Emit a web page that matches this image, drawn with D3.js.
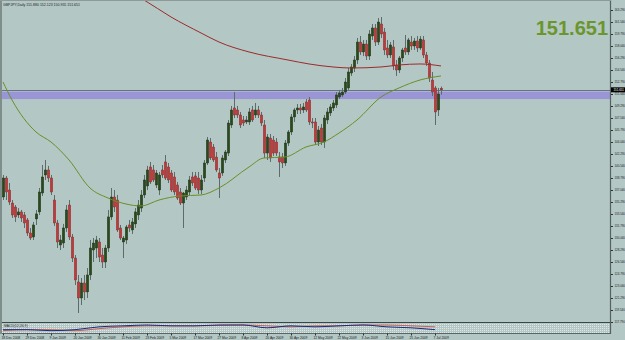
<!DOCTYPE html>
<html>
<head>
<meta charset="utf-8">
<script src="https://cdn.jsdelivr.net/npm/d3@7"></script>
<style>
    html, body { margin: 0; padding: 0; background: #b3c7c4; }
    svg { display: block; }
</style>
</head>
<body>
<div class="container"></div>
<script>
const WIDTH = 625,
    HEIGHT = 340,
    PLOT_LEFT = 2,
    AXIS_X = 611,
    PLOT_BOTTOM = 322,
    SUB_TOP = 323,
    SUB_BOTTOM = 333,
    FONT = '"Liberation Sans", Arial, sans-serif';

// GBPJPY daily bars, 147 candles
const opens = [
    136.02, 138.79, 137.04, 135.14, 134.56, 133.40, 133.84, 133.40, 132.67, 130.77,
    130.19, 132.82, 133.84, 136.60, 139.23, 139.96, 138.79, 135.58, 132.23, 129.02,
    129.31, 131.50, 134.85, 130.19, 127.12, 123.63, 121.29, 123.48, 122.17, 124.65,
    128.29, 128.58, 129.46, 127.56, 126.54, 128.58, 133.11, 136.02, 135.58, 131.50,
    129.46, 129.75, 131.94, 131.21, 132.09, 133.40, 134.41, 136.31, 137.63, 140.40,
    139.96, 137.77, 137.04, 139.96, 141.13, 140.40, 139.52, 138.94, 137.77, 136.75,
    135.14, 136.02, 136.75, 138.94, 139.09, 138.79, 137.04, 138.79, 140.98, 144.04,
    143.31, 141.85, 139.52, 139.52, 141.42, 142.43, 146.52, 149.00, 148.71, 147.98,
    147.25, 146.96, 146.96, 148.71, 147.98, 148.71, 147.98, 146.52, 142.43, 144.62,
    144.33, 144.04, 141.85, 141.85, 140.98, 143.89, 145.50, 147.69, 148.71, 149.00,
    148.71, 149.88, 150.17, 146.96, 146.96, 144.04, 146.08, 144.04, 147.25, 148.27,
    149.00, 149.44, 150.60, 150.90, 151.33, 151.92, 154.10, 154.83, 156.00, 158.62,
    157.17, 158.33, 156.58, 159.50, 160.67, 158.62, 161.25, 160.08, 157.75, 156.73,
    157.90, 155.27, 154.54, 156.29, 157.75, 157.17, 158.62, 158.04, 158.77, 157.75,
    158.92, 156.73, 155.56, 153.08, 151.92, 148.71, 151.88
];
const highs = [
    139.23, 139.09, 138.06, 135.58, 134.85, 134.41, 134.13, 133.84, 132.96, 131.50,
    132.38, 134.13, 137.33, 140.69, 141.42, 140.55, 139.23, 136.31, 132.67, 130.48,
    132.09, 134.85, 135.58, 130.63, 127.56, 124.65, 124.21, 124.65, 125.66, 129.75,
    130.04, 130.34, 130.04, 128.58, 129.02, 134.13, 137.33, 137.04, 136.31, 131.94,
    130.34, 131.94, 132.67, 132.96, 134.41, 135.58, 137.04, 139.23, 140.55, 141.13,
    140.69, 139.96, 139.67, 140.69, 142.14, 140.98, 139.96, 139.67, 138.21, 137.33,
    136.75, 137.63, 139.09, 139.67, 139.67, 139.67, 139.23, 141.42, 144.77, 144.62,
    143.75, 142.58, 140.25, 142.14, 142.87, 147.25, 149.30, 151.33, 149.30, 148.42,
    147.83, 147.83, 149.00, 149.30, 149.73, 149.30, 148.42, 147.25, 145.21, 145.21,
    144.92, 144.62, 142.58, 142.43, 144.33, 145.79, 148.12, 149.00, 149.58, 149.58,
    149.73, 150.31, 150.60, 147.54, 147.54, 146.37, 146.66, 147.98, 149.00, 149.58,
    150.17, 151.33, 151.63, 151.92, 153.37, 154.83, 155.42, 156.58, 159.21, 159.50,
    158.92, 158.92, 160.37, 161.25, 161.25, 162.12, 162.27, 160.67, 158.92, 158.62,
    158.92, 156.00, 156.58, 157.75, 159.65, 159.21, 159.50, 159.21, 159.50, 159.50,
    159.50, 157.17, 156.00, 154.25, 152.21, 151.92, 152.123
];
const lows = [
    135.58, 135.58, 134.85, 132.96, 132.38, 132.96, 132.38, 131.50, 130.34, 129.75,
    129.75, 131.94, 133.40, 136.17, 138.50, 138.21, 136.31, 131.80, 128.58, 128.29,
    128.58, 130.92, 129.75, 126.54, 123.19, 119.10, 120.27, 121.00, 121.29, 123.92,
    126.54, 127.12, 126.54, 125.66, 125.66, 128.00, 132.67, 133.84, 130.92, 129.75,
    127.12, 129.17, 130.92, 130.63, 131.50, 132.67, 133.84, 135.87, 137.04, 137.92,
    138.21, 137.33, 136.31, 138.79, 138.50, 138.06, 136.75, 136.31, 135.58, 134.85,
    131.50, 135.58, 136.31, 137.63, 137.04, 136.46, 136.46, 138.21, 140.69, 141.42,
    141.13, 139.67, 135.87, 139.09, 140.98, 142.00, 146.08, 147.54, 147.54, 146.08,
    146.37, 146.66, 146.52, 146.96, 147.54, 147.54, 146.37, 141.71, 141.42, 141.13,
    142.00, 142.00, 138.94, 140.25, 140.55, 143.46, 145.06, 146.96, 148.12, 148.12,
    148.27, 148.42, 146.52, 146.08, 143.60, 143.46, 143.60, 143.17, 146.66, 147.83,
    148.56, 149.00, 150.31, 150.60, 151.04, 151.63, 153.67, 154.25, 155.42, 156.73,
    156.58, 156.00, 156.00, 158.92, 158.04, 158.19, 159.21, 156.73, 156.29, 156.29,
    154.54, 153.67, 154.10, 155.71, 156.73, 156.73, 157.46, 157.46, 157.17, 157.46,
    156.29, 155.13, 152.79, 150.75, 146.52, 147.83, 150.955
];
const closes = [
    138.79, 136.75, 135.29, 133.40, 133.11, 133.84, 132.96, 132.23, 130.77, 130.04,
    131.94, 133.55, 136.75, 138.94, 139.96, 138.79, 136.75, 132.23, 129.46, 129.75,
    131.50, 134.13, 130.19, 127.12, 123.92, 121.29, 123.48, 122.17, 124.65, 128.58,
    129.31, 129.75, 127.27, 126.54, 128.58, 133.11, 136.02, 134.56, 131.21, 130.04,
    130.04, 131.65, 131.50, 132.38, 133.84, 134.85, 136.31, 138.50, 139.96, 138.21,
    138.50, 139.52, 139.23, 139.23, 138.79, 138.50, 137.04, 136.75, 135.87, 135.14,
    136.60, 137.04, 138.50, 138.06, 137.33, 137.04, 138.50, 140.98, 144.33, 141.71,
    141.42, 139.96, 138.79, 141.71, 142.58, 146.81, 148.71, 147.98, 147.98, 146.52,
    146.81, 147.25, 148.42, 147.25, 148.71, 147.98, 146.81, 142.43, 144.77, 141.71,
    142.43, 142.43, 141.13, 140.98, 143.89, 145.50, 147.69, 148.71, 149.00, 148.71,
    149.15, 148.71, 146.96, 146.81, 144.04, 145.79, 144.04, 147.54, 148.42, 149.15,
    149.73, 150.90, 151.19, 151.33, 152.79, 154.25, 154.98, 156.00, 158.62, 157.17,
    158.33, 156.58, 159.79, 160.67, 158.62, 161.54, 159.79, 157.46, 156.73, 158.19,
    155.13, 154.54, 156.29, 157.46, 157.17, 158.92, 158.04, 158.77, 157.75, 159.06,
    156.73, 155.56, 153.37, 151.33, 148.42, 151.04, 151.651
];

// moving averages read at a few bars
const maFastBars = [0, 3, 11, 16, 22, 29, 35, 41, 46, 52, 59, 66, 72, 82, 87, 94, 101, 107, 112, 118, 126, 132, 139, 146];
const maFastValues = [152.79, 150.17, 145.50, 144.04, 141.42, 137.33, 135.87, 135.00, 134.71, 135.58, 136.17, 136.31, 137.33, 140.40, 141.71, 141.85, 143.31, 144.04, 145.35, 147.25, 150.60, 151.92, 153.08, 153.67];
const maSlowBars = [40, 47, 56, 66, 72, 82, 95, 102, 110, 116, 126, 132, 139, 146];
const maSlowValues = [166.40, 164.75, 162.27, 159.94, 158.62, 157.17, 156.00, 155.42, 154.98, 154.83, 154.98, 155.27, 155.42, 155.13];

const dateTickBars = [0, 8, 16, 24, 32, 40, 48, 56, 64, 72, 80, 88, 96, 104, 112, 120, 128, 136, 144];
const dateTickLabels = ['18 Dec 2008', '29 Dec 2008', '9 Jan 2009', '20 Jan 2009', '30 Jan 2009', '11 Feb 2009',
    '23 Feb 2009', '5 Mar 2009', '17 Mar 2009', '27 Mar 2009', '8 Apr 2009', '20 Apr 2009', '30 Apr 2009',
    '12 May 2009', '22 May 2009', '3 Jun 2009', '15 Jun 2009', '25 Jun 2009', '7 Jul 2009'];
const priceTicks = [163.29, 161.54, 159.79, 158.04, 156.29, 154.54, 152.79, 151.04, 149.29, 147.54, 145.79,
    144.04, 142.29, 140.54, 138.79, 137.04, 135.29, 133.54, 131.79, 130.04, 128.29, 126.54, 124.79,
    123.04, 121.29, 119.54, 117.79];

const oscMain = [-1.0, -1.0, -1.7, -1.0, 1.0, 1.7, 2.3, 1.7, 1.7, 2.3, 2.3, 0.3, 1.7, 1.0, 1.7, 2.3, 1.0, 0.3, -1.0];
const oscSignal = [-1.7, -1.0, -1.0, -1.7, -0.3, 1.0, 1.7, 1.7, 1.7, 2.0, 2.3, 1.7, 1.0, 1.7, 1.7, 2.3, 2.3, 1.7, 1.0];

const zoneLow = 150.30,
    zoneHigh = 151.38,
    lastPrice = 151.651,
    headerText = 'GBPJPY,Daily  151.880 152.123 150.955 151.651',
    oscLabel = 'MACD(12,26,9)';

const _x = d3.scaleLinear()
    .domain([0, closes.length - 1])
    .range([3, 441]);

const _y = d3.scaleLinear()
    .domain([117.79, 163.29])
    .range([PLOT_BOTTOM, 10]);

const _yOsc = d3.scaleLinear()
    .domain([-3, 3])
    .range([SUB_BOTTOM - 0.5, SUB_TOP + 1]);

var createChart = () => {
    var svg = d3.select('.container').append('svg')
        .attr('width', WIDTH)
        .attr('height', HEIGHT);

    svg.append('rect')
        .attr('width', WIDTH).attr('height', HEIGHT)
        .attr('fill', '#b3c7c4');

    svg.append('clipPath').attr('id', 'plot')
        .append('rect')
        .attr('x', PLOT_LEFT).attr('y', 1)
        .attr('width', AXIS_X - PLOT_LEFT).attr('height', PLOT_BOTTOM - 1);

    var pat = svg.append('pattern').attr('id', 'dots')
        .attr('width', 2).attr('height', 2)
        .attr('patternUnits', 'userSpaceOnUse');
    pat.append('rect').attr('width', 1).attr('height', 1).attr('fill', '#dfe7e6');

    return svg;
}

var addZone = (svg) => {
    svg.append('rect')
        .attr('x', PLOT_LEFT).attr('width', AXIS_X - PLOT_LEFT)
        .attr('y', _y(zoneHigh))
        .attr('height', _y(zoneLow) - _y(zoneHigh))
        .attr('fill', '#9a96d6');

    svg.append('line')
        .attr('x1', PLOT_LEFT).attr('x2', AXIS_X)
        .attr('y1', Math.round(_y(lastPrice)) + 0.5).attr('y2', Math.round(_y(lastPrice)) + 0.5)
        .attr('stroke', '#66708a').attr('stroke-width', 1);
}

var addCandles = (svg) => {
    var g = svg.append('g').attr('clip-path', 'url(#plot)');
    var bars = d3.range(closes.length);

    g.selectAll('.wick')
        .data(bars)
        .enter().append('line')
        .classed('wick', true)
        .attr('x1', (i) => Math.round(_x(i)) + 0.5)
        .attr('x2', (i) => Math.round(_x(i)) + 0.5)
        .attr('y1', (i) => _y(highs[i]))
        .attr('y2', (i) => _y(lows[i]))
        .attr('stroke', '#5d6b6a')
        .attr('stroke-width', 1);

    g.selectAll('.body')
        .data(bars)
        .enter().append('rect')
        .classed('body', true)
        .attr('x', (i) => Math.round(_x(i)) - 0.7)
        .attr('width', 2.4)
        .attr('y', (i) => _y(Math.max(opens[i], closes[i])))
        .attr('height', (i) => Math.max(1, Math.abs(_y(opens[i]) - _y(closes[i]))))
        .attr('fill', (i) => closes[i] >= opens[i] ? '#2b4a1b' : '#c03a3a')
        .attr('stroke', (i) => closes[i] >= opens[i] ? '#1c2e14' : '#7a2a2a')
        .attr('stroke-width', 0.4);
}

var addLine = (svg, bars, values, color) => {
    var line = d3.line()
        .x((d, i) => _x(bars[i]))
        .y((d) => _y(d))
        .curve(d3.curveMonotoneX);

    svg.append('path')
        .attr('clip-path', 'url(#plot)')
        .attr('d', line(values))
        .attr('fill', 'none')
        .attr('stroke', color)
        .attr('stroke-width', 1);
}

var addOscillator = (svg) => {
    svg.append('rect')
        .attr('x', PLOT_LEFT).attr('y', SUB_TOP)
        .attr('width', AXIS_X - PLOT_LEFT).attr('height', SUB_BOTTOM - SUB_TOP)
        .attr('fill', 'url(#dots)');

    var line = d3.line()
        .x((d, i) => _x(dateTickBars[i]))
        .y((d) => _yOsc(d))
        .curve(d3.curveMonotoneX);

    svg.append('path').attr('d', line(oscSignal))
        .attr('fill', 'none').attr('stroke', '#c8605a').attr('stroke-width', 1);
    svg.append('path').attr('d', line(oscMain))
        .attr('fill', 'none').attr('stroke', '#1e2a7a').attr('stroke-width', 1);

    svg.append('text')
        .attr('x', 4).attr('y', SUB_TOP + 3.5)
        .attr('font-family', FONT).attr('font-size', 3.4)
        .attr('fill', '#1b2222')
        .text(oscLabel);

    svg.append('line')
        .attr('x1', 0).attr('x2', AXIS_X)
        .attr('y1', PLOT_BOTTOM + 0.5).attr('y2', PLOT_BOTTOM + 0.5)
        .attr('stroke', '#3c4646');
    svg.append('line')
        .attr('x1', 0).attr('x2', AXIS_X)
        .attr('y1', SUB_BOTTOM + 0.5).attr('y2', SUB_BOTTOM + 0.5)
        .attr('stroke', '#5a6666');
}

var addAxes = (svg) => {
    var yAxis = d3.axisRight(_y)
        .tickValues(priceTicks)
        .tickSize(2)
        .tickPadding(1.5)
        .tickFormat(d3.format('.3f'));

    var gy = svg.append('g')
        .attr('transform', 'translate(' + AXIS_X + ',0)')
        .call(yAxis);
    gy.select('.domain').remove();
    gy.selectAll('line').attr('stroke', '#2a3232');
    gy.selectAll('text')
        .attr('font-family', FONT).attr('font-size', 2.9)
        .attr('fill', '#1b2222');

    var xAxis = d3.axisBottom(_x)
        .tickValues(dateTickBars)
        .tickSize(2)
        .tickPadding(0.8)
        .tickFormat((d, i) => dateTickLabels[i]);

    var gx = svg.append('g')
        .attr('transform', 'translate(0,' + (SUB_BOTTOM + 0.5) + ')')
        .call(xAxis);
    gx.select('.domain').remove();
    gx.selectAll('line').attr('stroke', '#2a3232');
    gx.selectAll('text')
        .attr('text-anchor', 'start')
        .attr('x', -2)
        .attr('font-family', FONT).attr('font-size', 3.3)
        .attr('fill', '#1b2222');

    svg.append('line')
        .attr('x1', AXIS_X - 0.5).attr('x2', AXIS_X - 0.5)
        .attr('y1', 0).attr('y2', SUB_BOTTOM + 1)
        .attr('stroke', '#56625f').attr('stroke-width', 1.2);
    svg.append('rect').attr('width', PLOT_LEFT).attr('height', SUB_BOTTOM + 1).attr('fill', '#7f8d8b');
    svg.append('rect').attr('width', AXIS_X).attr('height', 1).attr('fill', '#8d9a98');

    // current price tag
    svg.append('rect')
        .attr('x', AXIS_X).attr('y', _y(lastPrice) - 2.5)
        .attr('width', WIDTH - AXIS_X).attr('height', 5)
        .attr('fill', '#000');
    svg.append('text')
        .attr('x', AXIS_X + 2.5).attr('y', _y(lastPrice) + 1.1)
        .attr('font-family', FONT).attr('font-size', 2.9)
        .attr('fill', '#fff')
        .text(d3.format('.3f')(lastPrice));
}

var addLabels = (svg) => {
    svg.append('text')
        .attr('x', 3).attr('y', 5.5)
        .attr('font-family', FONT).attr('font-size', 3.6)
        .attr('fill', '#1b2222')
        .attr('textLength', 77).attr('lengthAdjust', 'spacingAndGlyphs')
        .text(headerText);

    svg.append('text')
        .attr('x', 608).attr('y', 35)
        .attr('text-anchor', 'end')
        .attr('font-family', FONT)
        .attr('font-weight', 'bold')
        .attr('font-size', 20)
        .attr('fill', '#6b962d')
        .text(d3.format('.3f')(lastPrice));
}

window.onload = () => {
    var chart = createChart();
    addZone(chart);
    addCandles(chart);
    addLine(chart, maSlowBars, maSlowValues, '#9c2b2b');
    addLine(chart, maFastBars, maFastValues, '#6a8f26');
    addOscillator(chart);
    addAxes(chart);
    addLabels(chart);
}
</script>
</body>
</html>
